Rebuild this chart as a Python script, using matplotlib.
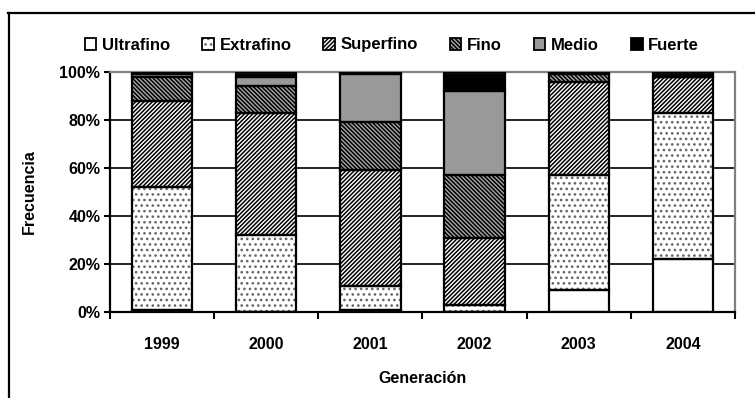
import numpy as np
import matplotlib
matplotlib.use('Agg')
import matplotlib.pyplot as plt
from matplotlib.patches import Patch
from matplotlib.lines import Line2D

# Datos: porcentaje por categoria de finura y generacion
years = ['1999', '2000', '2001', '2002', '2003', '2004']
categorias = ['Ultrafino', 'Extrafino', 'Superfino', 'Fino', 'Medio', 'Fuerte']
ultrafino = [1, 0, 1, 0, 9, 22]
extrafino = [51, 32, 10, 3, 48, 61]
superfino = [36, 51, 48, 28, 39, 15]
fino = [10, 11, 20, 26, 3, 0]
medio = [1, 4, 20, 35, 1, 0]
fuerte = [1, 2, 1, 8, 0, 2]

plt.rcParams['font.family'] = ['Liberation Sans', 'DejaVu Sans']
plt.rcParams['font.weight'] = 'bold'
plt.rcParams['axes.labelweight'] = 'bold'
plt.rcParams['hatch.linewidth'] = 1.1

# estilo de cada serie: (relleno, color de trama, trama)
estilos = [
    ('white', 'white', None),
    ('white', '#666666', '...'),
    ('white', 'black', '////////'),
    ('#a8a8a8', 'black', '\\\\\\\\\\\\\\\\'),
    ('#999999', '#999999', None),
    ('black', 'black', None),
]
series = [ultrafino, extrafino, superfino, fino, medio, fuerte]

fig = plt.figure(figsize=(7.55, 3.98), dpi=100)
ax = fig.add_axes([110/755, 1 - 312/398, (735-110)/755, (312-72)/398])

x = np.arange(len(years))
width = 0.58
bottom = np.zeros(len(years))
for vals, (face, hcol, hatch) in zip(series, estilos):
    vals = np.array(vals, dtype=float)
    ax.bar(x, vals, width, bottom=bottom, color=face, edgecolor=hcol,
           hatch=hatch, linewidth=0, zorder=2)
    ax.bar(x, vals, width, bottom=bottom, fill=False, edgecolor='black',
           linewidth=1.6, zorder=3)
    bottom += vals

ax.set_xlim(-0.5, 5.5)
ax.set_ylim(0, 100)
ax.set_yticks([0, 20, 40, 60, 80, 100])
ax.set_yticklabels(['0%', '20%', '40%', '60%', '80%', '100%'], fontsize=11.5)
ax.yaxis.grid(True, color='black', linewidth=1.2)
ax.set_axisbelow(True)

# ticks en los limites de cada grupo, etiquetas en el centro
ax.set_xticks(np.arange(-0.5, 6, 1))
ax.set_xticklabels([])
ax.set_xticks(x, minor=True)
ax.set_xticklabels(years, minor=True, fontsize=11.5)
ax.tick_params(axis='x', which='major', direction='out', length=5, width=1.5)
ax.tick_params(axis='x', which='minor', length=0, pad=18)
ax.tick_params(axis='y', direction='out', length=4, width=1.5, pad=3)

for s in ['left', 'bottom']:
    ax.spines[s].set_color('black')
    ax.spines[s].set_linewidth(1.6)
for s in ['top', 'right']:
    ax.spines[s].set_color('#808080')
    ax.spines[s].set_linewidth(1.6)

ax.set_ylabel('Frecuencia', fontsize=11.5, labelpad=16)
ax.set_xlabel('Generación', fontsize=11.5, labelpad=14)

handles = [Patch(facecolor=f, edgecolor=h, hatch=ht, linewidth=0)
           for f, h, ht in estilos]
handles = [(hd, Patch(fill=False, edgecolor='black', linewidth=1.3)) for hd in handles]
fig.legend(handles, categorias, loc='center', bbox_to_anchor=(392/755, 1 - 45/398),
           ncol=6, frameon=False, fontsize=12, handlelength=0.7,
           handleheight=0.7, handletextpad=0.35, columnspacing=1.9)

# marco exterior
fig.add_artist(Line2D([8/755, 1], [1 - 13/398, 1 - 13/398], color='black', linewidth=1.6))
fig.add_artist(Line2D([9/755, 9/755], [0, 1 - 13/398], color='black', linewidth=1.6))

fig.savefig('out.png', dpi=100)
